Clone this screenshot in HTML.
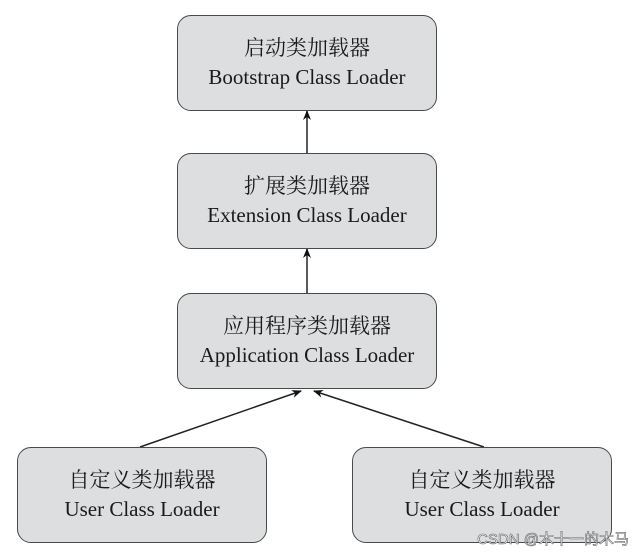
<!DOCTYPE html>
<html><head><meta charset="utf-8"><style>
body{margin:0;background:#fff;width:639px;height:555px;position:relative;overflow:hidden}
.b{position:absolute;box-sizing:border-box;background:#dddedf;border:1.5px solid #4a4a4a;border-radius:14px;text-align:center;color:#1a1a1a;font-family:"Liberation Serif","Noto Serif CJK SC",serif}
.c{font-size:21px;margin-top:18px;line-height:26px;font-family:"Noto Serif CJK SC","Noto Sans CJK SC",serif}
.e{font-size:21px;line-height:26px;margin-top:4px}
.w{position:absolute;right:10px;bottom:6px;font:15px "Liberation Sans","Noto Sans CJK SC",sans-serif;color:#fff;-webkit-text-stroke:0.6px #666}
</style></head><body>
<svg width="639" height="555" style="position:absolute;left:0;top:0">
<defs><marker id="a" markerWidth="10" markerHeight="10" refX="9" refY="5" orient="auto" markerUnits="userSpaceOnUse"><path d="M0,1 L10,5 L0,9 L3,5z" fill="#111"/></marker></defs>
<g stroke="#222" stroke-width="1.5" fill="none">
<line x1="307" y1="153" x2="307" y2="111" marker-end="url(#a)"/>
<line x1="307" y1="293" x2="307" y2="249" marker-end="url(#a)"/>
<line x1="140" y1="447" x2="301" y2="391" marker-end="url(#a)"/>
<line x1="484" y1="447" x2="314" y2="391" marker-end="url(#a)"/>
</g></svg>
<div class="b" style="left:177px;top:15px;width:260px;height:96px"><div class="c">启动类加载器</div><div class="e">Bootstrap Class Loader</div></div>
<div class="b" style="left:177px;top:153px;width:260px;height:96px"><div class="c">扩展类加载器</div><div class="e">Extension Class Loader</div></div>
<div class="b" style="left:177px;top:293px;width:260px;height:96px"><div class="c">应用程序类加载器</div><div class="e">Application Class Loader</div></div>
<div class="b" style="left:17px;top:447px;width:250px;height:96px"><div class="c">自定义类加载器</div><div class="e">User Class Loader</div></div>
<div class="b" style="left:352px;top:447px;width:260px;height:96px"><div class="c">自定义类加载器</div><div class="e">User Class Loader</div></div>
<div class="w">CSDN @木十一的木马</div>
</body></html>
